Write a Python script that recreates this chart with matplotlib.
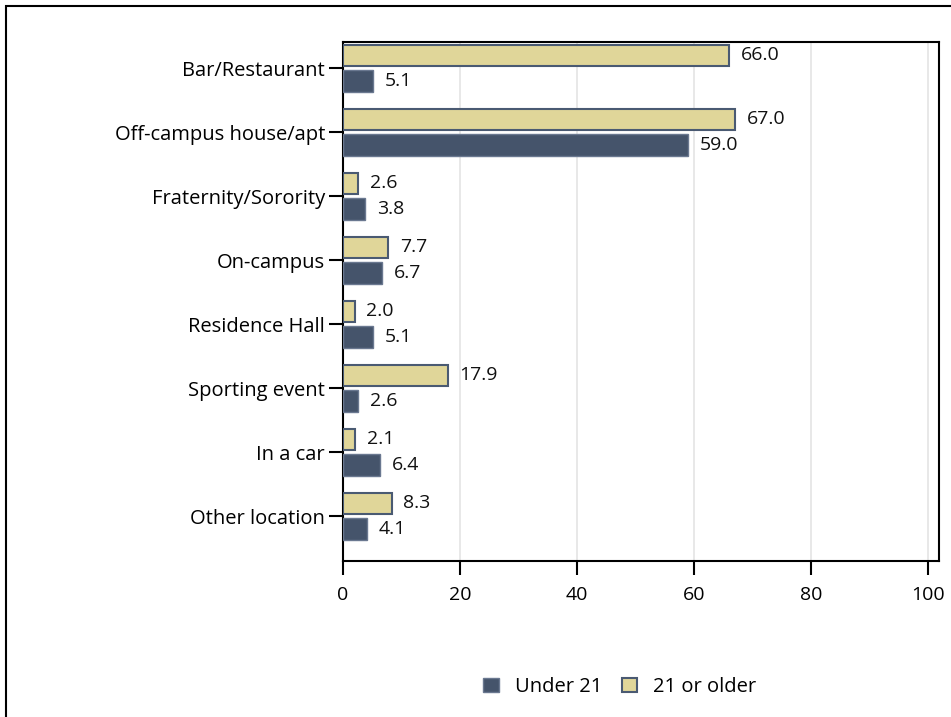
import matplotlib
matplotlib.use("Agg")
import matplotlib.pyplot as plt
from matplotlib.patches import Rectangle
import numpy as np

categories = ["Bar/Restaurant", "Off-campus house/apt", "Fraternity/Sorority", "On-campus",
              "Residence Hall", "Sporting event", "In a car", "Other location"]
under21 = [5.1, 59.0, 3.8, 6.7, 5.1, 2.6, 6.4, 4.1]
over21 = [66.0, 67.0, 2.6, 7.7, 2.0, 17.9, 2.1, 8.3]
series_names = ["Under 21", "21 or older"]
xticks = [0, 20, 40, 60, 80, 100]

dark = "#45546b"
yellow = "#e0d699"
plt.rcParams['font.family'] = ['Open Sans', 'DejaVu Sans']
FS = 14.5
FSV = 14

W, H = 951, 717
fig = plt.figure(figsize=(W/100, H/100), dpi=100)
ax = fig.add_axes([343/W, 1-561/H, (939-343)/W, (561-42)/H])

y = np.arange(len(categories))
h = 0.33
off = 0.2
ax.barh(y + off, under21, height=h, color=dark, edgecolor="#6a7890", linewidth=1, zorder=3)
ax.barh(y - off, over21, height=h, color=yellow, edgecolor="#4a5a72", linewidth=1.5, zorder=3)

for i in range(len(categories)):
    ax.text(under21[i] + 2.0, y[i] + off, f"{under21[i]:.1f}", va="center", ha="left", fontsize=FSV, color="#111111")
    ax.text(over21[i] + 2.0, y[i] - off, f"{over21[i]:.1f}", va="center", ha="left", fontsize=FSV, color="#111111")

ax.set_xlim(0, 101.9)
ax.set_ylim(7.70, -0.41)
ax.set_yticks(y)
ax.set_yticklabels(categories, fontsize=FS)
ax.set_xticks(xticks)
ax.set_xticklabels([str(t) for t in xticks], fontsize=FSV)
ax.tick_params(axis='y', length=10, width=1.5, pad=3)
ax.tick_params(axis='x', length=10, width=1.5, pad=8)
ax.grid(axis='x', color="#e4e4e4", linewidth=1.2, zorder=0)
for s in ax.spines.values():
    s.set_linewidth(1.5)
    s.set_color("black")

handles = [Rectangle((0, 0), 1, 1, facecolor=dark, edgecolor="#6a7890", linewidth=1),
           Rectangle((0, 0), 1, 1, facecolor=yellow, edgecolor="#4a5a72", linewidth=1.5)]
fig.legend(handles, series_names, loc="center", bbox_to_anchor=(620/W, 1-687/H), ncol=2,
           frameon=False, fontsize=FS, handlelength=0.75, handleheight=0.75, columnspacing=1.0,
           handletextpad=0.8)

fig.add_artist(Rectangle((6/W, -0.1), 1.1, 1 - 6/H + 0.1, transform=fig.transFigure,
                         fill=False, edgecolor="black", linewidth=1.5))

fig.savefig("out.png", dpi=100)
